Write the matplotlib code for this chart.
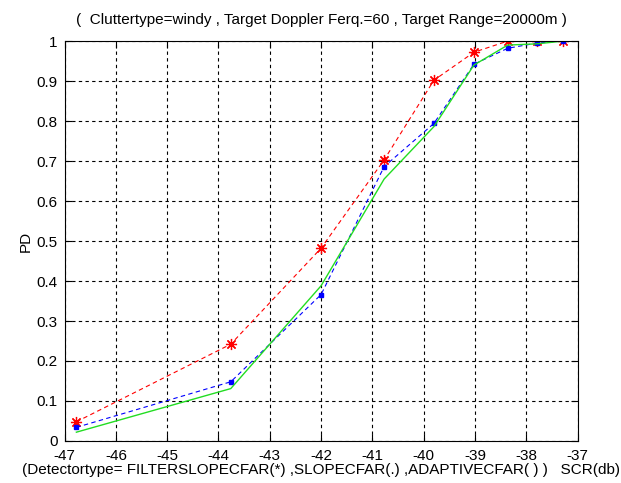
import numpy as np
import matplotlib
matplotlib.use('Agg')
import matplotlib.pyplot as plt

plt.rcParams['font.family'] = ['Liberation Sans', 'DejaVu Sans']

# SCR (db) sample points
scr = [-46.77, -43.76, -42.0, -40.77, -39.8, -39.02, -38.36, -37.79, -37.28]
pd_filterslope = [0.048, 0.242, 0.482, 0.703, 0.902, 0.972, 1.0, 1.0, 1.0]
pd_slope = [0.034, 0.148, 0.366, 0.686, 0.794, 0.942, 0.982, 0.995, 1.0]
pd_adaptive = [0.022, 0.131, 0.388, 0.655, 0.786, 0.94, 0.99, 0.993, 1.0]

xticks = list(range(-47, -36))
yticks = [0, 0.1, 0.2, 0.3, 0.4, 0.5, 0.6, 0.7, 0.8, 0.9, 1]
ytick_labels = ['0', '0.1', '0.2', '0.3', '0.4', '0.5', '0.6', '0.7', '0.8', '0.9', '1']

fig = plt.figure(figsize = (6.21, 4.83), dpi = 100)
ax = fig.add_axes([0.104, 0.087, 0.826, 0.828])

# MATLAB-style asterisk: 8-armed star
ax.plot(scr, pd_filterslope, color = 'red', linestyle = (0, (4, 3)), linewidth = 0.8,
        marker = (8, 2, 0), markersize = 8, markeredgewidth = 0.9)
ax.plot(scr, pd_slope, color = 'blue', linestyle = (0, (4, 3)), linewidth = 0.8,
        marker = 's', markersize = 3)
ax.plot(scr, pd_adaptive, color = '#22dd22', linestyle = '-', linewidth = 1.0)

ax.set_xlim(-47, -37); ax.set_ylim(0, 1)
ax.set_xticks(xticks)
ax.set_xticklabels([str(t) for t in xticks])
ax.set_yticks(yticks)
ax.set_yticklabels(ytick_labels)
ax.grid(True, color = 'black', linestyle = (0, (3, 3)), linewidth = 0.8)
ax.tick_params(direction = 'in', length = 5, top = True, right = True, labelsize = 11)
ax.tick_params(axis = 'x', pad = 6)
ax.tick_params(axis = 'y', pad = 5)
for s in ax.spines.values():
    s.set_linewidth(0.8)

ax.set_title("(  Cluttertype=windy , Target Doppler Ferq.=60 , Target Range=20000m )",
             fontsize = 11, pad = 12)
ax.set_xlabel("(Detectortype= FILTERSLOPECFAR(*) ,SLOPECFAR(.) ,ADAPTIVECFAR( ) )   SCR(db)",
              fontsize = 11, labelpad = 0)
ax.set_ylabel("PD", fontsize = 11, labelpad = 3)

plt.savefig("out.png", dpi = 100)
